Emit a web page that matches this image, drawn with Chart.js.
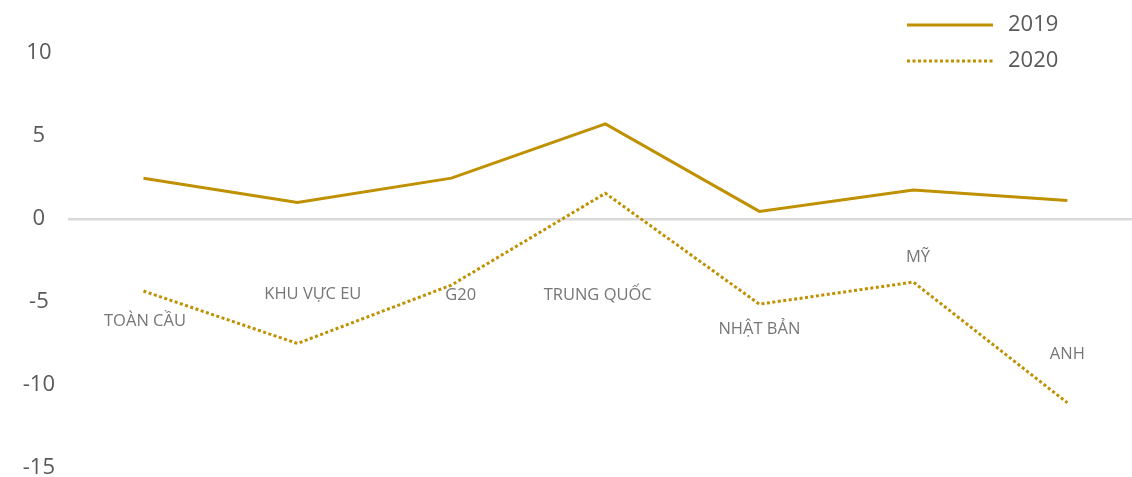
<!DOCTYPE html>
<html>
<head>
<meta charset="utf-8">
<script src="https://cdn.jsdelivr.net/npm/chart.js@4/dist/chart.umd.min.js"></script>
<style>
  html, body { margin: 0; padding: 0; background: #fff; }
  #wrap { width: 1132px; height: 477px; position: relative; }
</style>
</head>
<body>
<div id="wrap"><canvas id="growthChart"></canvas></div>
<script>
// categories and series
var categories = ['TOÀN CẦU', 'KHU VỰC EU', 'G20', 'TRUNG QUỐC', 'NHẬT BẢN', 'MỸ', 'ANH'];
var values2019 = [2.46, 1.0, 2.46, 5.73, 0.46, 1.75, 1.12];
var values2020 = [-4.34, -7.5, -3.98, 1.55, -5.13, -3.8, -11.07];
var seriesNames = ['2019', '2020'];
// where the category names sit (category offset, value)
var labelShift = [0.01, 0.1, 0.06, -0.05, 0, 0.03, 0];
var labelValue = [-6.15, -4.55, -4.6, -4.6, -6.65, -2.3, -8.15];
var yTicks = [10, 5, 0, -5, -10, -15];

var gold = '#BF9000';
var textGrey = '#595959';
var fontFamily = '"Open Sans", "Noto Sans", sans-serif';

function toPoints(arr){
  return arr.map(function(v, i){ return {x: i, y: v}; });
}

// category names drawn inside the plot
var categoryLabels = {
  id: 'categoryLabels',
  afterDatasetsDraw: function(chart){
    var ctx = chart.ctx;
    var xs = chart.scales.x, ys = chart.scales.y;
    ctx.save();
    ctx.font = '16.5px ' + fontFamily;
    ctx.fillStyle = '#767676';
    ctx.textAlign = 'center';
    ctx.textBaseline = 'middle';
    categories.forEach(function(name, i){
      ctx.fillText(name, xs.getPixelForValue(i + labelShift[i]), ys.getPixelForValue(labelValue[i]));
    });
    ctx.restore();
  }
};

// legend top right
var lineLegend = {
  id: 'lineLegend',
  afterDraw: function(chart){
    var ctx = chart.ctx;
    ctx.save();
    ctx.font = '22px ' + fontFamily;
    ctx.textBaseline = 'middle';
    ctx.textAlign = 'left';
    chart.data.datasets.forEach(function(ds, i){
      var y = 25 + i * 36;
      ctx.strokeStyle = ds.borderColor;
      ctx.lineWidth = 3;
      ctx.setLineDash(ds.borderDash || []);
      ctx.beginPath();
      ctx.moveTo(907, y);
      ctx.lineTo(993, y);
      ctx.stroke();
      ctx.fillStyle = textGrey;
      ctx.fillText(ds.label, 1008, y);
    });
    ctx.restore();
  }
};

new Chart(document.getElementById('growthChart'), {
  type: 'line',
  data: {
    datasets: [{
      label: seriesNames[0],
      data: toPoints(values2019),
      borderColor: gold,
      borderWidth: 3,
      pointRadius: 0,
      tension: 0
    }, {
      label: seriesNames[1],
      data: toPoints(values2020),
      borderColor: gold,
      borderWidth: 3,
      borderDash: [3, 2.5],
      pointRadius: 0,
      tension: 0
    }]
  },
  options: {
    responsive: true,
    maintainAspectRatio: false,
    animation: false,
    layout: { padding: { top: 53, bottom: 9, left: 0, right: 0 } },
    plugins: {
      legend: { display: false },
      tooltip: { enabled: false }
    },
    scales: {
      x: {
        type: 'linear',
        min: -0.49,
        max: 6.42,
        display: false
      },
      y: {
        min: -15,
        max: 10,
        afterFit: function(scale){
          scale.width = 68;
          scale.paddingTop = 0;
          scale.paddingBottom = 0;
        },
        afterBuildTicks: function(scale){
          scale.ticks = yTicks.map(function(v){ return {value: v}; });
        },
        border: { display: false },
        grid: {
          drawTicks: false,
          color: function(c){ return c.tick && c.tick.value === 0 ? '#d9d9d9' : 'rgba(0,0,0,0)'; },
          lineWidth: 2.5
        },
        ticks: {
          crossAlign: 'center',
          padding: 13,
          color: textGrey,
          font: { size: 22, family: fontFamily }
        }
      }
    }
  },
  plugins: [categoryLabels, lineLegend]
});
</script>
</body>
</html>
